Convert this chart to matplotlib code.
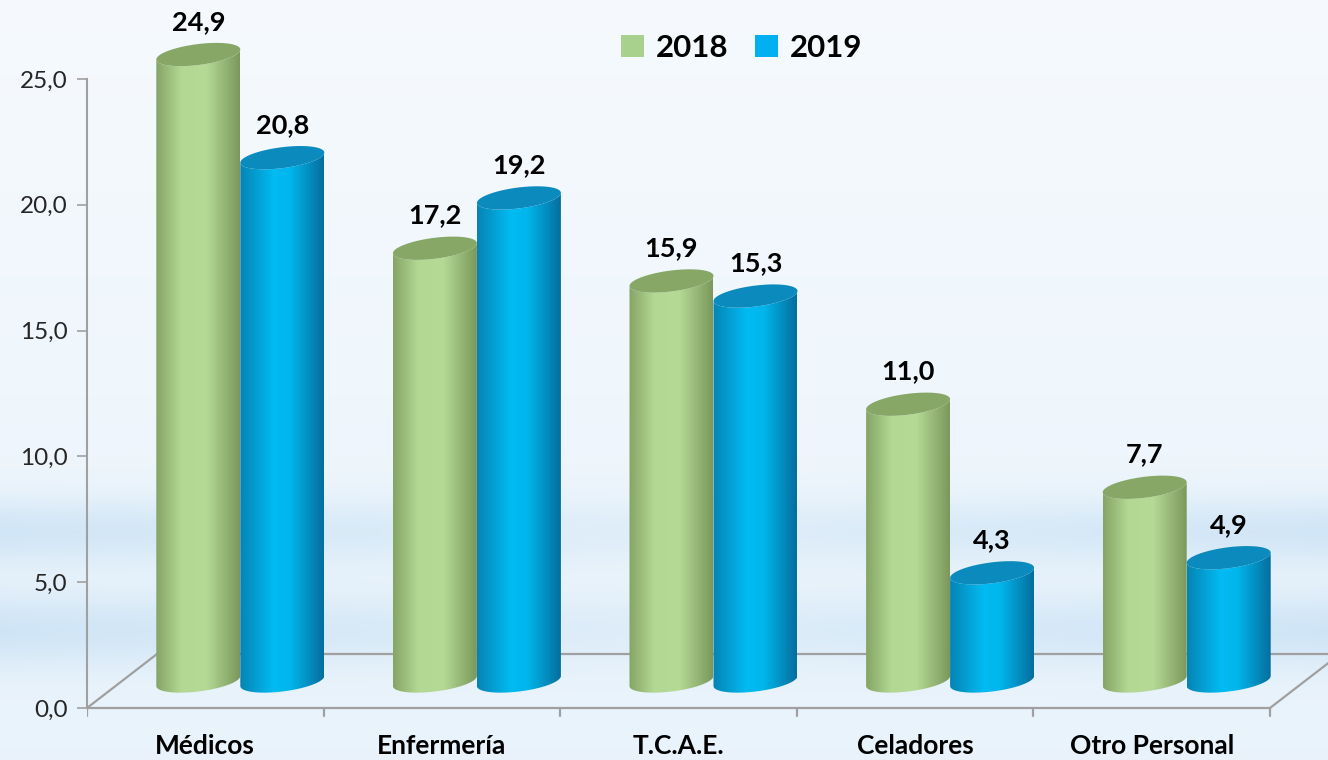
"""
Cylinder bar chart, 2018 vs 2019 by staff category
"""

import numpy as np
import matplotlib.pyplot as plt
from matplotlib.patches import PathPatch, Patch
from matplotlib.path import Path
from matplotlib.colors import LinearSegmentedColormap


categories = ['Médicos', 'Enfermería', 'T.C.A.E.', 'Celadores', 'Otro Personal']
values_2018 = [24.9, 17.2, 15.9, 11.0, 7.7]
values_2019 = [20.8, 19.2, 15.3, 4.3, 4.9]
series_names = ['2018', '2019']
yticks = [0, 5, 10, 15, 20, 25]

plt.rcParams['font.family'] = ['Lato', 'DejaVu Sans']

W, H = 1328, 760
fig = plt.figure(figsize=(W / 100, H / 100), dpi=100)

# background: pale with a soft blue band low down
bg = fig.add_axes([0, 0, 1, 1], zorder=0)
yy = np.linspace(0, 1, 300)[:, None]
xx = np.linspace(0, 1, 400)[None, :]
edge = 0.45 + 0.55 * np.abs(xx - 0.5) * 2
band = (np.exp(-((yy - 0.70) / 0.045) ** 2) + np.exp(-((yy - 0.83) / 0.05) ** 2)) * edge
base = 0.05 + 0.25 * yy
t = np.clip(base + 0.55 * band, 0, 1)
bg_cmap = LinearSegmentedColormap.from_list('bg', ['#f8fbfe', '#c6e0f4'])
bg.imshow(t, cmap=bg_cmap, vmin=0, vmax=1, aspect='auto', extent=[0, 1, 0, 1])
bg.axis('off')

# main axes: x in category units, y in value units
px_per_x = 236.6
px_per_y = 25.16
x0_px, y0_px = 87, 708
xmax = (W - x0_px) / px_per_x
ymax = y0_px / px_per_y
ymin = -(H - y0_px) / px_per_y
ax = fig.add_axes([x0_px / W, 0, 1 - x0_px / W, 1], zorder=1)
ax.set_xlim(0, xmax)
ax.set_ylim(ymin, ymax)
ax.patch.set_alpha(0)
for s in ['top', 'right', 'bottom']:
    ax.spines[s].set_visible(False)
ax.spines['left'].set_bounds(0, 25)
ax.spines['left'].set_color('#a0a0a0')
ax.spines['left'].set_linewidth(1.5)
ax.set_yticks(yticks)
ax.set_yticklabels([f'{v:.1f}'.replace('.', ',') for v in yticks])
ax.tick_params(axis='y', length=7, width=1.2, color='#a0a0a0', labelsize=17.5,
               labelcolor='#262626', pad=7)
ax.set_xticks([])

# floor
n = len(categories)
depth_x = 70 / px_per_x
depth_y = 54 / px_per_y
floor_kw = dict(color='#a0a0a0', lw=1.6, zorder=2, solid_capstyle='round')
ax.plot([0, n], [0, 0], **floor_kw)
ax.plot([depth_x, n + depth_x], [depth_y, depth_y], **floor_kw)
ax.plot([0, depth_x], [0, depth_y], **floor_kw)
ax.plot([n, n + depth_x], [0, depth_y], **floor_kw)
for i in range(n + 1):
    ax.plot([i, i], [0, -8 / px_per_y], **floor_kw)
for i, c in enumerate(categories):
    ax.text(i + 0.5, -38 / px_per_y, c, ha='center', va='center',
            fontsize=19, fontweight='bold', color='black')

# cylinders
bar_w = 84 / px_per_x
b = 10.5 / px_per_y
k = 0.12 * px_per_x / px_per_y
base_dx, base_dy = depth_x / 2, depth_y / 2

green_body = LinearSegmentedColormap.from_list(
    'g', [(0, '#86a566'), (0.3, '#b2d893'), (0.6, '#b4da95'), (1, '#7b985c')])
blue_body = LinearSegmentedColormap.from_list(
    'b', [(0, '#0684b4'), (0.4, '#00bbf2'), (0.6, '#00b6ec'), (1, '#056e9e')])
tops = ['#86a766', '#0a8abd']
bodies = [green_body, blue_body]
legend_cols = ['#a9d18e', '#00b0f0']


def ellipse_pts(cx, cy, a, t):
    return np.column_stack([cx + a * np.cos(t), cy + b * np.sin(t) + k * a * np.cos(t)])


def cylinder(cx, val, cmap, top_color):
    a = bar_w / 2
    y_bot = base_dy
    y_top = base_dy + val
    front = np.linspace(np.pi, 2 * np.pi, 60)
    bottom = ellipse_pts(cx, y_bot, a, front)
    top = ellipse_pts(cx, y_top, a, front)[::-1]
    verts = np.vstack([bottom, top, bottom[:1]])
    body = Path(verts, closed=True)
    patch = PathPatch(body, facecolor='none', edgecolor='none', zorder=3)
    ax.add_patch(patch)
    grad = np.linspace(0, 1, 200)[None, :]
    im = ax.imshow(grad, cmap=cmap, aspect='auto', zorder=3,
                   extent=[cx - a, cx + a, y_bot - 2 * b - k * a, y_top + k * a])
    im.set_clip_path(patch)
    full = ellipse_pts(cx, y_top, a, np.linspace(0, 2 * np.pi, 100))
    ax.add_patch(PathPatch(Path(full, closed=True), facecolor=top_color,
                           edgecolor='none', zorder=4))
    ax.text(cx, y_top + 1.3, f'{val:.1f}'.replace('.', ','), ha='center',
            va='center', fontsize=19.5, fontweight='bold', color='black', zorder=5)


for i in range(n):
    gc = i + 0.5 + base_dx
    for j, vals in enumerate([values_2018, values_2019]):
        cx = gc + (j - 0.5) * bar_w
        cylinder(cx, vals[i], bodies[j], tops[j])

ax.set_xlim(0, xmax)
ax.set_ylim(ymin, ymax)

handles = [Patch(facecolor=c, edgecolor='none') for c in legend_cols]
fig.legend(handles, series_names, loc='center', bbox_to_anchor=(742 / W, 1 - 48 / H),
           ncol=2, frameon=False, prop={'size': 22.5, 'weight': 'bold'},
           handlelength=0.72, handleheight=0.72, handletextpad=0.4, columnspacing=0.85)

fig.savefig('out.png', dpi=100)
